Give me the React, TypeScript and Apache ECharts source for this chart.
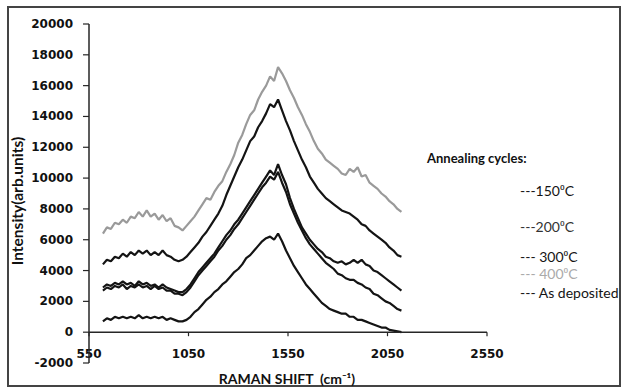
import React, { useEffect, useRef } from "react";
import * as echarts from "echarts";

const ramanShift = [620, 640, 660, 680, 700, 720, 740, 760, 780, 800, 820, 840, 860, 880, 900, 920, 940, 960, 980, 1000, 1020, 1040, 1060, 1080, 1100, 1120, 1140, 1160, 1180, 1200, 1220, 1240, 1260, 1280, 1300, 1320, 1340, 1360, 1380, 1400, 1420, 1440, 1460, 1480, 1500, 1520, 1540, 1560, 1580, 1600, 1620, 1640, 1660, 1680, 1700, 1720, 1740, 1760, 1780, 1800, 1820, 1840, 1860, 1880, 1900, 1920, 1940, 1960, 1980, 2000, 2020, 2040, 2060, 2080, 2100, 2120];

const c400 = [6400, 6800, 6700, 7100, 7000, 7300, 7100, 7500, 7400, 7800, 7500, 7900, 7500, 7700, 7300, 7600, 7200, 7400, 6900, 6800, 6600, 6900, 7200, 7500, 7900, 8300, 8700, 8600, 9100, 9500, 9800, 10400, 10900, 11500, 12300, 12800, 13500, 14100, 14400, 15100, 15600, 16000, 16600, 16300, 17200, 16800, 16300, 15700, 15200, 14600, 14100, 13500, 13000, 12400, 11900, 11600, 11200, 11000, 10800, 10600, 10300, 10200, 10600, 10400, 10700, 10100, 10200, 9700, 9500, 9300, 9000, 8800, 8500, 8300, 8000, 7800];

const c300 = [4400, 4700, 4600, 4900, 4800, 5100, 4900, 5200, 5000, 5300, 5100, 5300, 5000, 5200, 5000, 5300, 5000, 4900, 4700, 4600, 4700, 4900, 5200, 5500, 5800, 6200, 6500, 6900, 7300, 7700, 8200, 8900, 9500, 10100, 10700, 11200, 11800, 12400, 12700, 13300, 13700, 14200, 14800, 14600, 15100, 14400, 13700, 13100, 12400, 11800, 11200, 10700, 10100, 9700, 9300, 9000, 8700, 8500, 8300, 8100, 7900, 7800, 7700, 7500, 7300, 7000, 6900, 6600, 6400, 6200, 6000, 5800, 5500, 5300, 5000, 4900];

const c200 = [2900, 3100, 3000, 3200, 3100, 3300, 3100, 3200, 3000, 3300, 3100, 3200, 3000, 3100, 2900, 3100, 2900, 2800, 2700, 2600, 2600, 2800, 3100, 3500, 3900, 4200, 4500, 4800, 5100, 5500, 5900, 6300, 6600, 7000, 7300, 7700, 8100, 8500, 8900, 9300, 9700, 10100, 10500, 10200, 10900, 10200, 9600, 8700, 8000, 7400, 6800, 6400, 6000, 5700, 5400, 5200, 4900, 4800, 4600, 4500, 4600, 4400, 4500, 4700, 4500, 4700, 4400, 4300, 4000, 3900, 3700, 3500, 3300, 3100, 2900, 2700];

const c150 = [2700, 2900, 2800, 3000, 2900, 3100, 2800, 3000, 2900, 3100, 2900, 3000, 2800, 3000, 2800, 2900, 2700, 2700, 2500, 2500, 2400, 2600, 2900, 3300, 3700, 4000, 4300, 4600, 4900, 5300, 5600, 6000, 6300, 6700, 7000, 7400, 7800, 8200, 8600, 9000, 9400, 9700, 10100, 9900, 10400, 9700, 9100, 8300, 7700, 7100, 6600, 6100, 5700, 5400, 5100, 4800, 4500, 4300, 4100, 3800, 3700, 3500, 3400, 3400, 3200, 3100, 2900, 2800, 2500, 2400, 2200, 2000, 1900, 1700, 1500, 1400];

const cAsDep = [700, 900, 800, 1000, 900, 1000, 900, 1000, 900, 1100, 900, 1000, 900, 1000, 900, 1000, 800, 900, 800, 700, 700, 800, 1000, 1300, 1500, 1800, 2100, 2300, 2600, 2800, 3100, 3300, 3600, 3900, 4100, 4400, 4800, 5000, 5300, 5600, 5900, 6100, 6200, 6000, 6400, 5900, 5300, 4800, 4300, 3900, 3500, 3100, 2800, 2500, 2200, 1900, 1700, 1500, 1400, 1300, 1200, 1200, 1000, 1000, 800, 800, 700, 600, 500, 400, 300, 300, 150, 100, 50, 0];

// tick values of the two axes
const xTickValues = [550, 1050, 1550, 2050, 2550];
const yTickValues = [-2000, 0, 2000, 4000, 6000, 8000, 10000, 12000, 14000, 16000, 18000, 20000];

const seriesNames = ["150\u2070C", "200\u2070C", "300\u2070C", "400\u2070C", "As deposited"];
const legendPrefix = ["---", "---", "--- ", "--- ", "--- "];
const legendTitle = "Annealing cycles:";
const xTitle = "RAMAN SHIFT  (cm\u207B\u00B9)";
const yTitle = "Intensity(arb.units)";

const TICK_FONT = '"DejaVu Sans", sans-serif';

export default function App() {
  const ref = useRef<HTMLDivElement>(null);
  useEffect(() => {
    if (!ref.current) return;
    const chart = echarts.init(ref.current, null, { renderer: "svg" });
    const xStart = xTickValues[0];
    const xEnd = xTickValues[xTickValues.length - 1];
    const yMin = yTickValues[0];
    const yMax = yTickValues[yTickValues.length - 1];
    // the x axis runs in offsets from its first tick, so ticks fall on 550, 1050, ...
    const pair = (arr: number[]) => ramanShift.map((x, i) => [x - xStart, arr[i]]);
    const black = "#141414";
    const grey = "#9a9a9a";
    const axisColor = "#262626";
    const seriesDefs = [
      { name: seriesNames[0], data: c150, color: black },
      { name: seriesNames[1], data: c200, color: black },
      { name: seriesNames[2], data: c300, color: black },
      { name: seriesNames[3], data: c400, color: grey },
      { name: seriesNames[4], data: cAsDep, color: black },
    ];
    const legendY = [190, 226, 256, 273, 292];
    const legendColor = [black, "#333333", black, "#aaaaaa", black];

    chart.setOption({
      animation: false,
      grid: { left: 89, right: 137, top: 24, bottom: 25, containLabel: false, outerBoundsMode: "none" },
      xAxis: {
        type: "value",
        min: 0,
        max: xEnd - xStart,
        interval: xTickValues[1] - xTickValues[0],
        offset: -31,
        axisLine: { show: false, onZero: false },
        axisTick: { show: false },
        axisLabel: {
          show: true,
          margin: 16,
          fontFamily: TICK_FONT,
          fontWeight: "bold",
          fontSize: 12,
          color: "#111111",
          formatter: (v: number) => String(v + xStart),
        },
        splitLine: { show: false },
      },
      yAxis: {
        type: "value",
        min: yMin,
        max: yMax,
        interval: yTickValues[1] - yTickValues[0],
        axisLine: { show: false, onZero: false },
        axisTick: { show: false },
        axisLabel: {
          margin: 16,
          fontFamily: TICK_FONT,
          fontWeight: "bold",
          fontSize: 12,
          color: "#111111",
          formatter: (v: number) => String(v),
        },
        splitLine: { show: false },
      },
      series: seriesDefs.map((s) => ({
        name: s.name,
        type: "line",
        data: pair(s.data),
        symbol: "none",
        silent: true,
        lineStyle: { color: s.color, width: 2.2 },
        z: s.color === grey ? 3 : 4,
      })),
    });

    // axis lines and ticks as thin filled rects, placed through the chart's own scales
    const toPx = (x: number, y: number) =>
      chart.convertToPixel({ gridIndex: 0 }, [x - xStart, y]) as number[];
    const origin = toPx(xStart, 0);
    const yBottom = toPx(xStart, yMin);
    const yTop = toPx(xStart, yMax);
    const xRight = toPx(xEnd, 0);
    const fillStyle = { fill: axisColor, stroke: null };
    const axisRects: any[] = [
      {
        type: "rect",
        z: 10,
        silent: true,
        shape: { x: yTop[0] - 0.75, y: yTop[1], width: 1.5, height: yBottom[1] - yTop[1] },
        style: fillStyle,
      },
      {
        type: "rect",
        z: 10,
        silent: true,
        shape: { x: origin[0], y: origin[1] - 0.75, width: xRight[0] - origin[0], height: 1.5 },
        style: fillStyle,
      },
      ...yTickValues.map((v) => {
        const p = toPx(xStart, v);
        return {
          type: "rect",
          z: 10,
          silent: true,
          shape: { x: p[0] - 6, y: p[1] - 0.6, width: 6, height: 1.2 },
          style: fillStyle,
        };
      }),
      ...xTickValues.map((v) => {
        const p = toPx(v, 0);
        return {
          type: "rect",
          z: 10,
          silent: true,
          shape: { x: p[0] - 0.6, y: p[1], width: 1.2, height: 4 },
          style: fillStyle,
        };
      }),
    ];

    chart.setOption({
      graphic: [
        {
          type: "rect",
          z: -10,
          shape: { x: 8, y: 7, width: 612, height: 379 },
          style: { fill: "none", stroke: "#444444", lineWidth: 2 },
          silent: true,
        },
        ...axisRects,
        {
          type: "text",
          x: 17,
          y: 201,
          rotation: Math.PI / 2,
          style: {
            text: yTitle,
            font: "bold 15.5px Lato",
            fill: "#111111",
            textAlign: "center",
            textVerticalAlign: "middle",
          },
        },
        {
          type: "text",
          x: 287,
          y: 378,
          style: {
            text: xTitle,
            font: "bold 14px Lato",
            fill: "#111111",
            textAlign: "center",
            textVerticalAlign: "middle",
          },
        },
        {
          type: "text",
          x: 427,
          y: 158,
          style: {
            text: legendTitle,
            font: "bold 13px Lato",
            fill: "#111111",
            textAlign: "left",
            textVerticalAlign: "middle",
          },
        },
        ...seriesNames.map((n, i) => ({
          type: "text",
          x: 520,
          y: legendY[i],
          style: {
            text: legendPrefix[i] + n,
            font: "14px Lato",
            fill: legendColor[i],
            textAlign: "left",
            textVerticalAlign: "middle",
          },
        })),
      ],
    });
    return () => chart.dispose();
  }, []);
  return (
    <div
      ref={ref}
      style={{ position: "absolute", left: 0, top: 0, width: 624, height: 388, background: "#fff" }}
    />
  );
}
